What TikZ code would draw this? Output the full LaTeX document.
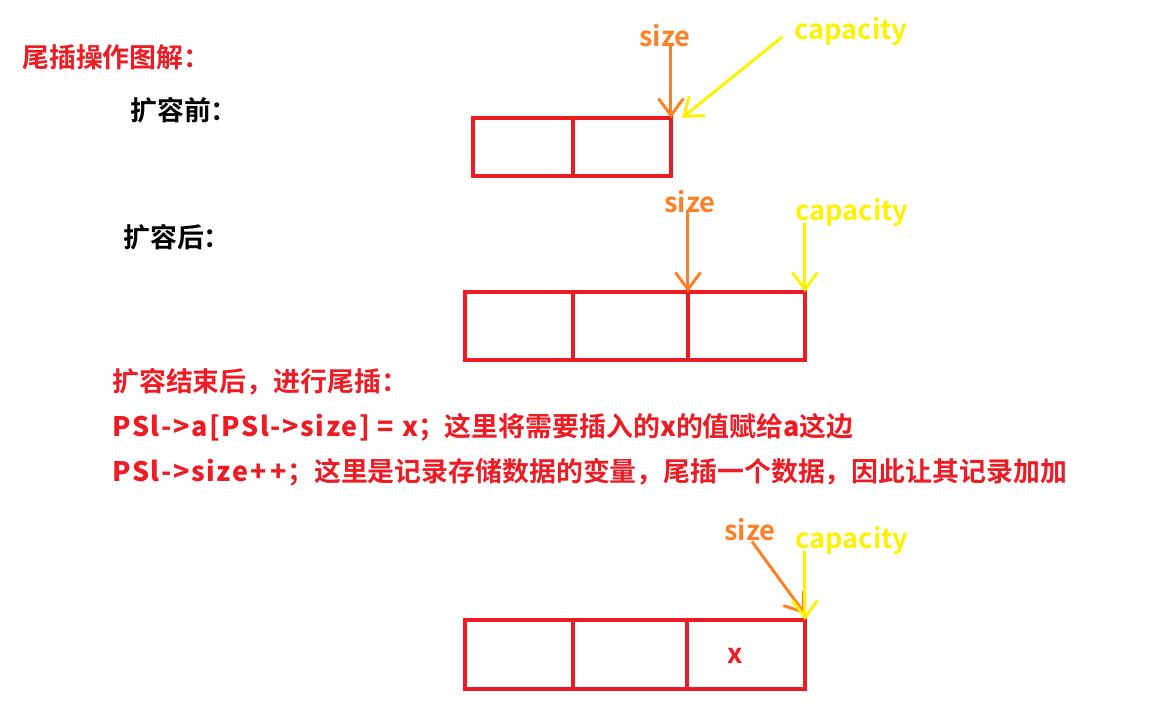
\documentclass[tikz,border=0pt]{standalone}
\usepackage{fontspec}
\setmainfont{Noto Sans CJK SC}[BoldFont={Noto Sans CJK SC Bold}]
\newfontfamily\latwide{Noto Sans CJK SC Bold}[LetterSpace=6]
\usepackage{xcolor}
\definecolor{PaintRed}{HTML}{ED1C24}
\definecolor{PaintOrange}{HTML}{FF7F27}
\definecolor{PaintYellow}{HTML}{FFF200}
\usetikzlibrary{arrows.meta,positioning}
\newcommand{\lat}[1]{{\latwide #1}}
\tikzset{
  cell/.style={draw=PaintRed, line width=2.3pt, inner sep=0pt, outer sep=0pt,
               minimum height=1.16cm},
  headtxt/.style={anchor=west, inner sep=0pt, font=\fontsize{15.3}{18}\selectfont\bfseries},
  ptrtxt/.style={inner sep=0pt, font=\fontsize{15.5}{18}\selectfont\bfseries},
  ptrarr/.style={-{Straight Barb[length=3.4mm,width=5mm]}, line width=1.7pt}
}

\begin{document}
\begin{tikzpicture}[x=0.02cm, y=-0.02cm]
\useasboundingbox (0,0) rectangle (1170,719);
% headings
\node[headtxt, PaintRed] (title) at (22,57) {尾插操作图解：};
\node[headtxt] (before) at (130,110) {扩容前：};
\node[headtxt] (after) at (123,237) {扩容后：};
% before growing
\node[cell, minimum width=2cm, anchor=north west] (c11) at (473,118) {};
\node[cell, minimum width=1.96cm, right=0pt of c11] (c12) {};
\node[ptrtxt, PaintOrange] (sz1) at (665,36) {size};
\node[ptrtxt, PaintYellow] (cap1) at (851,32) {capacity};
\draw[ptrarr, PaintOrange] (c12.north east |- sz1.south) ++(0,-4) -- (c12.north east);
\draw[ptrarr, PaintYellow] ([xshift=-0.24cm,yshift=-0.1cm]cap1.west) -- ([xshift=0.22cm]c12.north east);
% after growing
\node[cell, minimum width=2.16cm, minimum height=1.36cm, anchor=north west] (c21) at (465,292) {};
\node[cell, minimum width=2.3cm, minimum height=1.36cm, right=0pt of c21] (c22) {};
\node[cell, minimum width=2.34cm, minimum height=1.36cm, right=0pt of c22] (c23) {};
\node[ptrtxt, PaintOrange] (sz2) at (690,202) {size};
\node[ptrtxt, PaintYellow] (cap2) at (852,213) {capacity};
\draw[ptrarr, PaintOrange] (c23.north west |- sz2.south) ++(0,-4) -- (c23.north west);
\draw[ptrarr, PaintYellow] (c23.north east |- cap2.south) ++(0,-4) -- (c23.north east);
% explanation
\node[headtxt, PaintRed] (step) at (112,382) {扩容结束后，进行尾插：};
\node[headtxt, PaintRed] (code1) at (112,427) {\lat{PSl->a[PSl->size] = x}；这里将需要插入的\lat{x}的值赋给\lat{a}这边};
\node[headtxt, PaintRed] (code2) at (112,472) {\lat{PSl->size+\,+}；这里是记录存储数据的变量，尾插一个数据，因此让其记录加加};
% after inserting
\node[cell, minimum width=2.16cm, minimum height=1.38cm, anchor=north west] (c31) at (465,620) {};
\node[cell, minimum width=2.28cm, minimum height=1.38cm, right=0pt of c31] (c32) {};
\node[cell, minimum width=2.36cm, minimum height=1.38cm, right=0pt of c32] (c33) {};
\node[ptrtxt, PaintRed] (val) at (735,656) {x};
\node[ptrtxt, PaintOrange] (sz3) at (750,530) {size};
\node[ptrtxt, PaintYellow] (cap3) at (852,541) {capacity};
\draw[ptrarr, PaintOrange] ([xshift=0.04cm]sz3.south) -- ([yshift=0.12cm]c33.north east);
\draw[ptrarr, PaintYellow] (c33.north east |- cap3.south) ++(0,-4) -- (c33.north east);
\end{tikzpicture}
\end{document}
